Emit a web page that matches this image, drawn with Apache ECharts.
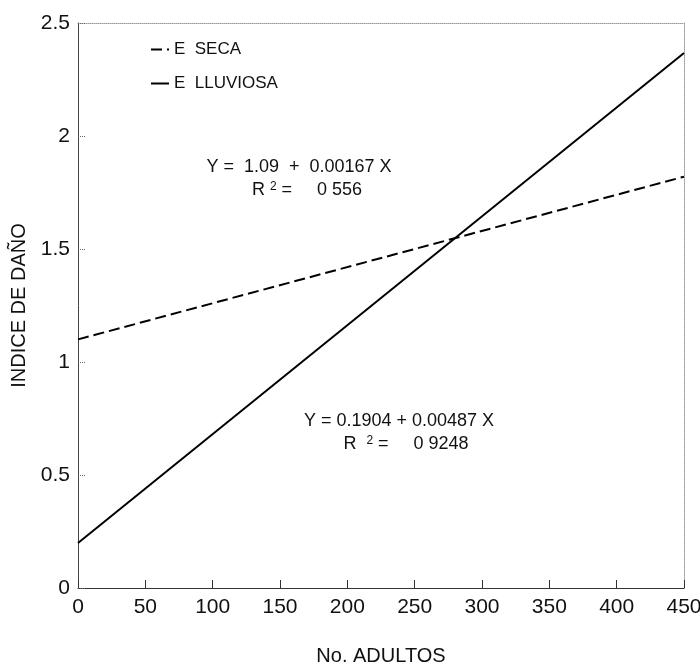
<!DOCTYPE html>
<html><head><meta charset="utf-8">
<script src="https://cdn.jsdelivr.net/npm/echarts@6/dist/echarts.min.js"></script>
<style>html,body{margin:0;padding:0;background:#fff}#c{width:700px;height:666px}</style>
</head><body><div id="c"></div>
<script>
var xTicks = [0, 50, 100, 150, 200, 250, 300, 350, 400, 450];
var yTicks = [0, 0.5, 1, 1.5, 2, 2.5];
var secaX = [0, 450];
var secaY = [1.10, 1.82];
var lluviosaX = [0, 450];
var lluviosaY = [0.199, 2.367];
var seriesNames = ['E  SECA', 'E  LLUVIOSA'];
var eqSeca = ['Y =  1.09  +  0.00167 X', '0 556'];
var eqLluviosa = ['Y = 0.1904 + 0.00487 X', '0 9248'];

var chart = echarts.init(document.getElementById('c'));
var font = 'Liberation Sans, Arial, sans-serif';
function pairs(xs, ys){ return xs.map(function(x,i){return [x, ys[i]];}); }
var rich = {sup:{fontSize:12, verticalAlign:'top', lineHeight:16, padding:[0,0,8,0], fontFamily:font, color:'#111'}};
chart.setOption({
  animation:false,
  backgroundColor:'#fff',
  grid:{left:78, right:16, top:23, bottom:78, outerBoundsMode:'none', containLabel:false},
  legend:{
    left:145, top:36, orient:'vertical', itemGap:17, itemWidth:18, itemHeight:18,
    itemStyle:{opacity:0},
    textStyle:{fontFamily:font, fontSize:17, color:'#111'},
    data:seriesNames
  },
  xAxis:[{
    type:'value', min:xTicks[0], max:xTicks[xTicks.length-1], interval:50,
    name:'No. ADULTOS', nameLocation:'middle', nameGap:58,
    nameTextStyle:{fontFamily:font, fontSize:20, color:'#111'},
    axisLine:{onZero:false, lineStyle:{color:'#333', width:1}},
    axisTick:{inside:true, length:8, lineStyle:{color:'#333'}},
    axisLabel:{fontFamily:font, fontSize:21, color:'#111', margin:9},
    splitLine:{show:false}
  },{
    type:'value', position:'top', min:0, max:450,
    axisLine:{show:true, onZero:false, lineStyle:{color:'#999', type:'dotted', width:1}},
    axisTick:{show:false}, axisLabel:{show:false}, splitLine:{show:false}
  }],
  yAxis:[{
    type:'value', min:yTicks[0], max:yTicks[yTicks.length-1], interval:0.5,
    name:'INDICE DE DAÑO', nameLocation:'middle', nameGap:43, nameRotate:90,
    nameTextStyle:{fontFamily:font, fontSize:20, color:'#111'},
    axisLine:{show:true, onZero:false, lineStyle:{color:'#444', width:1}},
    axisTick:{show:true, inside:true, length:7, lineStyle:{color:'#666', type:'dotted'}},
    axisLabel:{fontFamily:font, fontSize:21, color:'#111', margin:8},
    splitLine:{show:false}
  },{
    type:'value', position:'right', min:0, max:2.5,
    axisLine:{show:true, onZero:false, lineStyle:{color:'#999', type:'dotted', width:1}},
    axisTick:{show:false}, axisLabel:{show:false}, splitLine:{show:false}
  }],
  series:[{
    name:seriesNames[0], type:'line', symbol:'none', data:pairs(secaX, secaY),
    lineStyle:{color:'#000', width:2, type:[11,5]}, itemStyle:{color:'#000'}
  },{
    name:seriesNames[1], type:'line', symbol:'none', data:pairs(lluviosaX, lluviosaY),
    lineStyle:{color:'#000', width:2, type:'solid'}, itemStyle:{color:'#000'}
  }],
  graphic:[
    {type:'text', x:299, y:167, style:{text:eqSeca[0], align:'center', verticalAlign:'middle', font:'18px '+font, fill:'#111'}},
    {type:'text', x:307, y:190, style:{text:'R {sup|2} =     ' + eqSeca[1], rich:rich, align:'center', verticalAlign:'middle', font:'18px '+font, fill:'#111'}},
    {type:'text', x:399, y:421, style:{text:eqLluviosa[0], align:'center', verticalAlign:'middle', font:'18px '+font, fill:'#111'}},
    {type:'text', x:406, y:444, style:{text:'R  {sup|2} =     ' + eqLluviosa[1], rich:rich, align:'center', verticalAlign:'middle', font:'18px '+font, fill:'#111'}}
  ]
});
</script></body></html>
